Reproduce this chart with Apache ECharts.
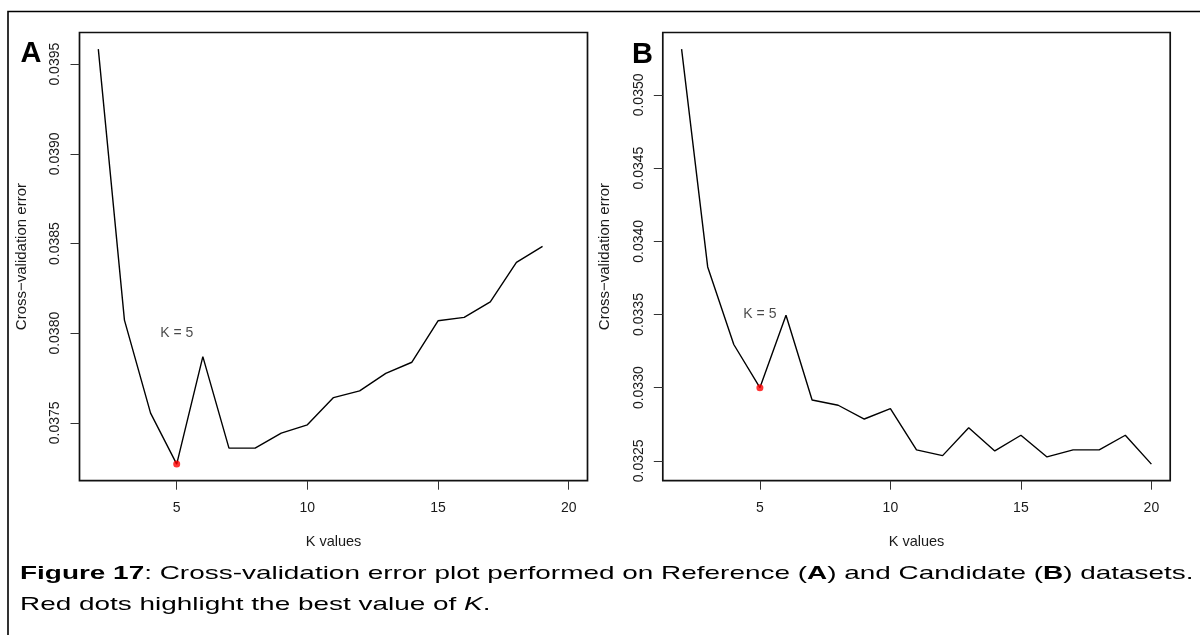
<!DOCTYPE html>
<html>
<head>
<meta charset="utf-8">
<script src="https://cdn.jsdelivr.net/npm/echarts@6/dist/echarts.min.js"></script>
<style>
html,body{margin:0;padding:0;background:#fff;}
#chart{width:1200px;height:635px;}
</style>
</head>
<body>
<div id="chart"></div>
<script>
// ---- data ----
const kA = [2,3,4,5,6,7,8,9,10,11,12,13,14,15,16,17,18,19];
const errA = [0.039584,0.038073,0.037554,0.037270,0.037869,0.037359,0.037359,0.037443,0.037489,0.037641,0.037678,0.037776,0.037838,0.038069,0.038088,0.038175,0.038395,0.038484];
const kB = [2,3,4,5,6,7,8,9,10,11,12,13,14,15,16,17,18,19,20];
const errB = [0.035313,0.033825,0.033295,0.033000,0.033495,0.032916,0.032880,0.032786,0.032857,0.032575,0.032536,0.032727,0.032568,0.032675,0.032527,0.032575,0.032575,0.032675,0.032478];
const bestK_A = 5;
const bestK_B = 5;
const annotA = {k: 5, err: 0.0380, text: 'K = 5'};
const annotB = {k: 5, err: 0.0335, text: 'K = 5'};
const xTicks = [5,10,15,20];
const yTicksA = [0.0375,0.0380,0.0385,0.0390,0.0395];
const yTicksB = [0.0325,0.0330,0.0335,0.0340,0.0345,0.0350];
const xLimits = [2,20];
const xTitle = 'K values';
const yTitle = 'Cross\u2212validation error';

// ---- helpers ----
function pad(lo, hi){ const r = hi - lo; return [lo - 0.04*r, hi + 0.04*r]; }
const FONT = '"Liberation Sans", Arial, Helvetica, sans-serif';
const xr = pad(xLimits[0], xLimits[1]);
const yrA = pad(Math.min(...errA), Math.max(...errA));
const yrB = pad(Math.min(...errB), Math.max(...errB));

function xAxisDef(idx){
  return {
    type:'value', gridIndex: idx, min: xr[0], max: xr[1],
    axisLine:{show:false}, splitLine:{show:false},
    axisTick:{show:true, length:9, customValues:xTicks, lineStyle:{color:'#333', width:1}},
    axisLabel:{show:true, customValues:xTicks, margin:20, fontSize:14, color:'#1a1a1a', fontFamily:FONT},
    name:xTitle, nameLocation:'middle', nameGap:54,
    nameTextStyle:{fontSize:14.5, color:'#1a1a1a', fontFamily:FONT}
  };
}
function yAxisDef(idx, yr, ticks){
  return {
    type:'value', gridIndex: idx, min: yr[0], max: yr[1], scale:true,
    axisLine:{show:false}, splitLine:{show:false},
    axisTick:{show:true, length:9, customValues:ticks, lineStyle:{color:'#333', width:1}},
    axisLabel:{show:true, customValues:ticks, rotate:90, margin:17, fontSize:14, color:'#1a1a1a', fontFamily:FONT,
      formatter: v => v.toFixed(4)},
    name:yTitle, nameLocation:'middle', nameRotate:90, nameGap:50,
    nameTextStyle:{fontSize:15, color:'#1a1a1a', fontFamily:FONT}
  };
}
function zip(ks, es){ return ks.map((k,i)=>[k, es[i]]); }

const chart = echarts.init(document.getElementById('chart'), null, {renderer:'canvas'});
chart.setOption({
  animation:false,
  backgroundColor:'#fff',
  textStyle:{fontFamily:FONT},
  grid:[
    {left:79.5, top:32.5, width:508, height:448.2, show:true, borderColor:'#111', borderWidth:1.7, backgroundColor:'transparent', containLabel:false},
    {left:662.8, top:32.5, width:507.4, height:448.2, show:true, borderColor:'#111', borderWidth:1.7, backgroundColor:'transparent', containLabel:false}
  ],
  xAxis:[xAxisDef(0), xAxisDef(1)],
  yAxis:[yAxisDef(0, yrA, yTicksA), yAxisDef(1, yrB, yTicksB)],
  series:[
    {type:'line', xAxisIndex:0, yAxisIndex:0, data:zip(kA, errA), symbol:'none', lineStyle:{color:'#000', width:1.4}, z:2},
    {type:'line', xAxisIndex:1, yAxisIndex:1, data:zip(kB, errB), symbol:'none', lineStyle:{color:'#000', width:1.4}, z:2},
    {type:'scatter', xAxisIndex:0, yAxisIndex:0, data:[[bestK_A, errA[kA.indexOf(bestK_A)]]], symbol:'circle', symbolSize:7, itemStyle:{color:'#ff0000'}, z:3},
    {type:'scatter', xAxisIndex:1, yAxisIndex:1, data:[[bestK_B, errB[kB.indexOf(bestK_B)]]], symbol:'circle', symbolSize:7, itemStyle:{color:'#ff0000'}, z:3},
    {type:'scatter', xAxisIndex:0, yAxisIndex:0, data:[[annotA.k, annotA.err]], symbolSize:0, silent:true,
      label:{show:true, position:'inside', formatter:annotA.text, fontSize:14, color:'#1a1a1a', fontFamily:FONT}},
    {type:'scatter', xAxisIndex:1, yAxisIndex:1, data:[[annotB.k, annotB.err]], symbolSize:0, silent:true,
      label:{show:true, position:'inside', formatter:annotB.text, fontSize:14, color:'#1a1a1a', fontFamily:FONT}}
  ],
  graphic:[
    {type:'rect', z:-1, shape:{x:8, y:11.5, width:1200, height:700}, style:{fill:'none', stroke:'#000', lineWidth:1.6}},
    {type:'text', x:31, y:54, style:{text:'A', font:'bold 29px ' + FONT, fill:'#000', align:'center', verticalAlign:'middle'}},
    {type:'text', x:642.5, y:55, style:{text:'B', font:'bold 29px ' + FONT, fill:'#000', align:'center', verticalAlign:'middle'}},
    {type:'text', x:20, y:574, scaleX:1.47, originX:0, originY:0,
      style:{text:'{b|Figure 17}: Cross-validation error plot performed on Reference ({b|A}) and Candidate ({b|B}) datasets.',
        fontSize:19, fontFamily:FONT, fill:'#000', align:'left', verticalAlign:'middle',
        rich:{b:{fontWeight:'bold', fontSize:19, fontFamily:FONT, fill:'#000'}}}},
    {type:'text', x:20, y:605, scaleX:1.47, originX:0, originY:0,
      style:{text:'Red dots highlight the best value of {i|K}.',
        fontSize:19, fontFamily:FONT, fill:'#000', align:'left', verticalAlign:'middle',
        rich:{i:{fontStyle:'italic', fontSize:19, fontFamily:FONT, fill:'#000'}}}}
  ]
});
</script>
</body>
</html>
